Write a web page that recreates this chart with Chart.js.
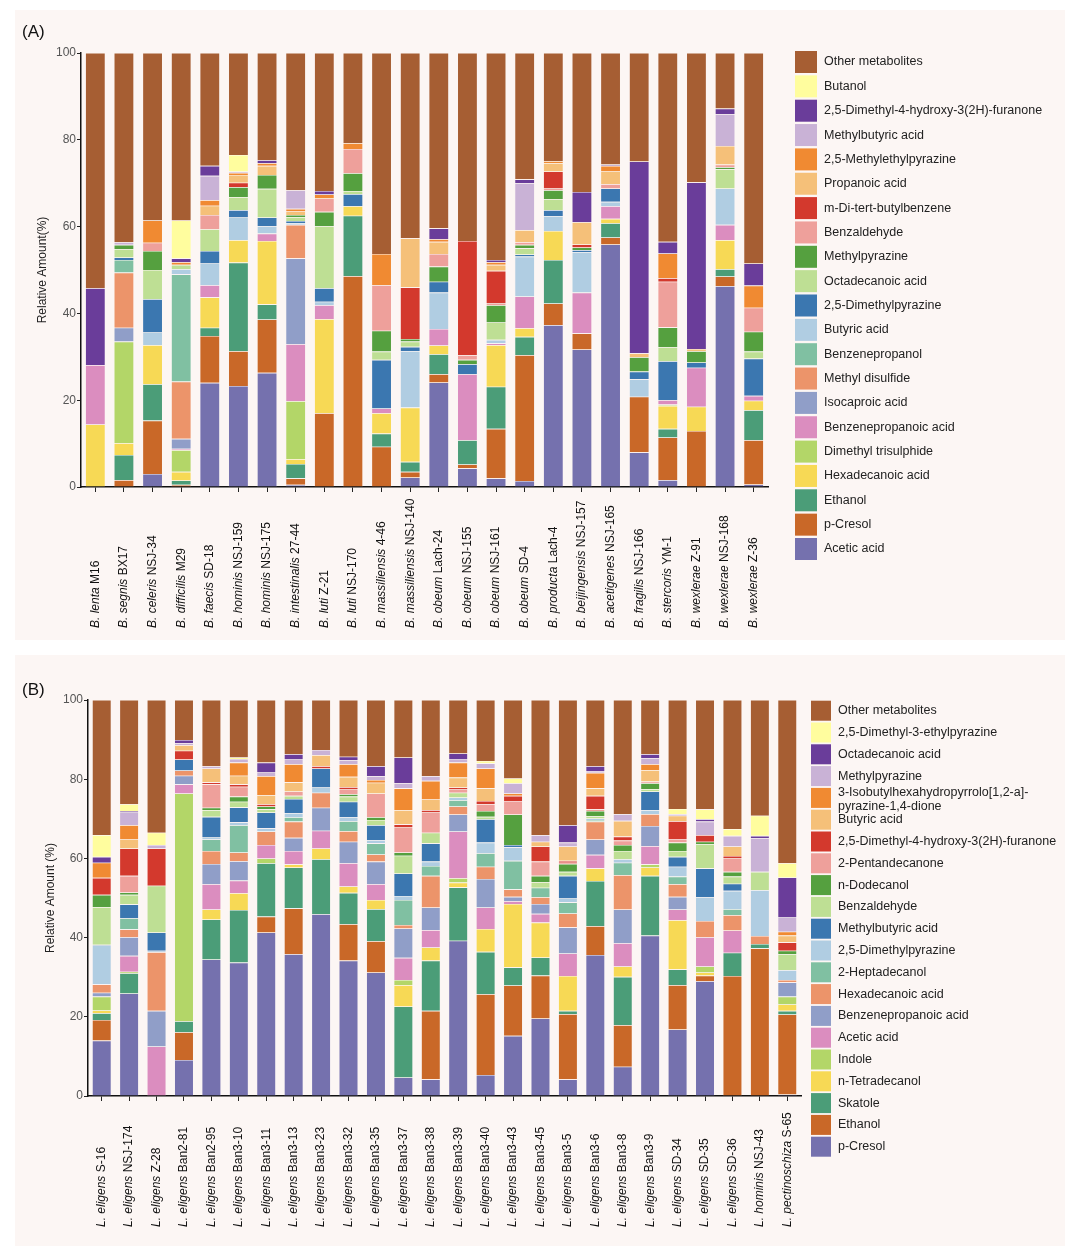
<!DOCTYPE html>
<html>
<head>
<meta charset="utf-8">
<script src="https://cdn.jsdelivr.net/npm/chart.js@4.4.1/dist/chart.umd.min.js"></script>
<style>
  body { margin: 0; background: #fff; width: 1080px; height: 1258px; position: relative; }
  .panel { position: absolute; left: 15px; width: 1050px; background: #fcf6f4; }
  #pa { top: 10px; height: 630px; }
  #pb { top: 655px; height: 591px; }
</style>
</head>
<body>
<div class="panel" id="pa"><canvas id="chartA"></canvas></div>
<div class="panel" id="pb"><canvas id="chartB"></canvas></div>
<script>
// --- panel A : strains and metabolites (bottom of stack first)
const strainsA = ['B. lenta M16', 'B. segnis BX17', 'B. celeris NSJ-34', 'B. difficilis M29', 'B. faecis SD-18',
  'B. hominis NSJ-159', 'B. hominis NSJ-175', 'B. intestinalis 27-44', 'B. luti Z-21', 'B. luti NSJ-170',
  'B. massiliensis 4-46', 'B. massiliensis NSJ-140', 'B. obeum Lach-24', 'B. obeum NSJ-155', 'B. obeum NSJ-161',
  'B. obeum SD-4', 'B. producta Lach-4', 'B. beijingensis NSJ-157', 'B. acetigenes NSJ-165', 'B. fragilis NSJ-166',
  'B. stercoris YM-1', 'B. wexlerae Z-91', 'B. wexlerae NSJ-168', 'B. wexlerae Z-36'];

const aAcetic = [0, 0, 3.0, 0, 24.0, 23.3, 26.3, 0.5, 0, 0, 0, 2.2, 24.1, 4.3, 2.0, 1.4, 37.3, 31.7, 55.9, 8.0, 1.6, 0, 46.3, 0.6];
const aCresol = [0, 1.6, 12.3, 0.5, 10.8, 8.0, 12.3, 1.5, 17.0, 48.6, 9.3, 1.3, 1.9, 0.9, 11.4, 29.0, 5.0, 3.7, 1.6, 12.8, 9.8, 12.9, 2.2, 10.2];
const aEthanol = [0, 5.8, 8.4, 1.0, 1.9, 20.4, 3.5, 3.3, 0, 13.9, 3.0, 2.3, 4.6, 5.6, 9.7, 4.2, 10.0, 0, 3.3, 0, 2.0, 0, 1.7, 6.9];
const aHexadecanoic = [14.4, 2.7, 9.0, 2.0, 7.0, 5.2, 14.6, 1.1, 21.7, 2.2, 4.7, 12.5, 2.0, 0, 9.6, 2.0, 6.7, 0, 1.0, 0, 5.3, 5.6, 6.7, 2.2];
const aTrisulphide = [0, 23.4, 0, 5.0, 0, 0, 0, 13.4, 0, 0, 0, 0, 0, 0, 0, 0, 0, 0, 0, 0, 0.3, 0, 0, 0];
const aBzPropAcid = [13.7, 0, 0, 0.3, 2.8, 0, 1.7, 13.1, 3.2, 0, 1.1, 0, 3.8, 15.2, 0.4, 7.3, 0, 9.4, 2.9, 0, 1.0, 9.0, 3.5, 1.1];
const aIsocaproic = [0, 3.2, 0, 2.3, 0, 0, 0, 19.8, 0, 0, 0, 0, 0, 0, 0, 0, 0, 0, 0, 0, 0, 0, 0, 0];
const aDisulfide = [0, 12.7, 0, 13.2, 0, 0, 0, 7.7, 0, 0, 0, 0, 0, 0, 0, 0, 0, 0, 0, 0, 0, 0, 0, 0];
const aBzPropanol = [0, 2.9, 0, 24.7, 0, 0, 0, 0, 0, 0, 0, 0, 0, 0, 0, 0, 0, 0, 0, 0, 0, 0, 0, 0];
const aButyric = [0, 0, 2.9, 1.2, 5.0, 5.2, 1.7, 0.4, 0.8, 0, 0, 13.0, 8.4, 0, 0.8, 9.2, 3.4, 9.3, 1.0, 4.0, 0, 0, 8.4, 0];
const aDimethylPyr = [0, 0.6, 7.7, 0, 2.9, 1.7, 2.0, 0.5, 3.1, 2.8, 11.2, 1.0, 2.5, 2.3, 0, 0.5, 1.4, 0.5, 3.1, 1.8, 9.0, 1.2, 0, 8.6];
const aOctadecanoic = [0, 1.9, 6.7, 1.0, 5.0, 3.0, 6.6, 0.9, 14.3, 0.7, 1.9, 1.2, 0, 0, 4.0, 1.4, 2.5, 0, 0, 0, 3.2, 0, 4.4, 1.6];
const aMethylPyr = [0, 1.0, 4.4, 0, 0, 2.3, 3.2, 0.5, 3.3, 4.1, 4.8, 0.6, 3.5, 1.0, 4.0, 0.8, 2.1, 0.6, 0, 3.3, 4.6, 2.6, 0.5, 4.6];
const aBenzaldehyde = [0, 0, 1.9, 0, 3.3, 0, 0, 0, 3.1, 5.6, 10.5, 0, 2.9, 1.1, 0.4, 0.6, 0.4, 0, 1.0, 0, 10.5, 0, 0.6, 5.5];
const aDiTert = [0, 0, 0, 0, 0, 1.0, 0, 0, 0, 0, 0, 11.9, 0, 26.3, 7.5, 0, 3.9, 0.7, 0, 0, 0.8, 0, 0, 0];
const aPropanoic = [0, 0, 0, 0, 2.1, 1.8, 2.1, 0.8, 0, 0, 0, 11.3, 2.8, 0, 1.4, 2.8, 1.9, 5.1, 2.9, 0.9, 0, 0.5, 4.3, 0];
const aMethylEthPyr = [0, 0, 5.1, 0.6, 1.3, 0.5, 0.6, 0.6, 0.9, 1.3, 7.2, 0, 0.6, 0, 0.6, 0, 0.5, 0, 1.3, 0, 5.7, 0, 0, 5.1];
const aMethylbutyric = [0, 0.6, 0, 0, 5.6, 0.3, 0, 4.3, 0, 0, 0, 0, 0, 0, 0, 10.8, 0, 0, 0, 0, 0, 0, 7.3, 0];
const aFuranone = [17.7, 0, 0, 0.9, 2.3, 0, 0.7, 0, 0.8, 0, 0, 0, 2.5, 0, 0.5, 0.9, 0, 7.0, 0.3, 44.2, 2.7, 38.4, 1.3, 5.1];
const aButanol = [0, 0, 0, 8.7, 0, 3.8, 0, 0, 0, 0, 0, 0, 0, 0, 0, 0, 0, 0, 0, 0, 0, 0, 0, 0];
const aOther = [54.2, 43.6, 38.6, 38.6, 26.0, 23.5, 24.7, 31.6, 31.8, 20.8, 46.3, 42.7, 40.4, 43.3, 47.7, 29.1, 24.9, 32.0, 25.7, 25.0, 43.5, 29.8, 12.8, 48.5];

const namesA = ['Acetic acid', 'p-Cresol', 'Ethanol', 'Hexadecanoic acid', 'Dimethyl trisulphide', 'Benzenepropanoic acid',
  'Isocaproic acid', 'Methyl disulfide', 'Benzenepropanol', 'Butyric acid', '2,5-Dimethylpyrazine', 'Octadecanoic acid',
  'Methylpyrazine', 'Benzaldehyde', 'm-Di-tert-butylbenzene', 'Propanoic acid', '2,5-Methylethylpyrazine',
  'Methylbutyric acid', '2,5-Dimethyl-4-hydroxy-3(2H)-furanone', 'Butanol', 'Other metabolites'];
const valuesA = [aAcetic, aCresol, aEthanol, aHexadecanoic, aTrisulphide, aBzPropAcid, aIsocaproic, aDisulfide,
  aBzPropanol, aButyric, aDimethylPyr, aOctadecanoic, aMethylPyr, aBenzaldehyde, aDiTert, aPropanoic,
  aMethylEthPyr, aMethylbutyric, aFuranone, aButanol, aOther];

// --- panel B
const strainsB = ['L. eligens S-16', 'L. eligens NSJ-174', 'L. eligens Z-28', 'L. eligens Ban2-81', 'L. eligens Ban2-95',
  'L. eligens Ban3-10', 'L. eligens Ban3-11', 'L. eligens Ban3-13', 'L. eligens Ban3-23', 'L. eligens Ban3-32',
  'L. eligens Ban3-35', 'L. eligens Ban3-37', 'L. eligens Ban3-38', 'L. eligens Ban3-39', 'L. eligens Ban3-40',
  'L. eligens Ban3-43', 'L. eligens Ban3-45', 'L. eligens Ban3-5', 'L. eligens Ban3-6', 'L. eligens Ban3-8',
  'L. eligens Ban3-9', 'L. eligens SD-34', 'L. eligens SD-35', 'L. eligens SD-36', 'L. hominis NSJ-43',
  'L. pectinoschiza S-65'];

const bCresol = [14.0, 25.9, 0, 9.1, 34.5, 33.7, 41.3, 35.8, 45.9, 34.2, 31.2, 4.7, 4.2, 39.2, 5.3, 15.2, 19.6, 4.2, 35.6, 7.4, 40.5, 16.8, 29.0, 0, 0, 0.4];
const bEthanol = [5.2, 0, 0, 7.0, 0, 0, 4.0, 11.6, 0, 9.2, 7.9, 0, 17.3, 0, 20.4, 12.7, 10.8, 16.5, 7.3, 10.5, 0, 11.2, 1.4, 30.3, 37.3, 20.2];
const bSkatole = [1.7, 5.1, 0, 2.8, 10.1, 13.3, 13.5, 10.3, 13.9, 7.9, 8.1, 17.9, 12.7, 13.5, 10.7, 4.6, 4.6, 0.8, 11.4, 12.2, 15.1, 4.0, 0, 5.9, 1.1, 0.9];
const bTetradecanol = [0.7, 0, 0, 0, 2.5, 4.2, 0, 0.8, 2.7, 1.6, 2.3, 5.4, 3.3, 1.2, 5.8, 16.0, 8.8, 8.8, 3.2, 2.6, 2.1, 12.4, 0.8, 0, 0, 1.6];
const bIndole = [3.5, 0.4, 0, 57.5, 0, 0, 1.2, 0, 0, 0, 0, 1.3, 0, 1.1, 0, 0, 0, 0, 0, 0, 0.8, 0, 1.5, 0, 0, 2.0];
const bAcetic = [0, 4.0, 12.5, 2.3, 6.4, 3.2, 3.4, 3.4, 4.5, 5.9, 4.0, 5.6, 4.4, 11.8, 5.4, 0.7, 2.2, 5.7, 3.4, 5.9, 4.6, 2.7, 7.4, 5.6, 0, 0];
const bBzPropAcid = [1.0, 4.7, 9.0, 2.2, 5.1, 4.9, 0, 3.3, 5.8, 5.4, 5.7, 7.4, 5.7, 4.3, 7.2, 1.1, 2.5, 6.6, 3.9, 8.5, 5.1, 3.2, 0, 0, 0, 3.6];
const bHexadecanoic = [2.1, 2.0, 14.8, 1.3, 3.3, 2.2, 3.4, 4.1, 3.8, 2.7, 1.8, 0.9, 8.0, 2.0, 3.1, 1.9, 1.7, 3.5, 4.5, 8.7, 3.0, 3.2, 4.1, 3.9, 2.0, 0.6];
const bHeptadecanol = [0, 2.8, 0, 0, 2.9, 6.9, 0, 1.1, 0, 2.5, 2.8, 6.3, 2.5, 1.6, 3.4, 7.2, 2.4, 2.8, 0.4, 3.1, 0, 1.9, 0, 1.5, 0, 0];
const bDimethylPyr = [9.8, 0, 0.4, 0, 0.5, 0.7, 0.8, 1.0, 1.3, 1.0, 0.8, 1.0, 1.1, 0.7, 2.7, 3.4, 0, 1.0, 0.4, 0.9, 1.0, 2.5, 6.0, 4.6, 11.6, 2.5];
const bMethylbutyric = [0.2, 3.5, 4.6, 2.8, 5.2, 3.8, 4.0, 3.6, 4.8, 3.9, 3.8, 5.7, 4.6, 0, 5.9, 0.6, 0, 5.7, 0, 0, 4.7, 2.5, 7.3, 1.8, 0, 0];
const bBenzaldehyde = [9.5, 2.4, 11.8, 0, 1.7, 1.4, 0.8, 0.8, 0, 1.3, 1.3, 4.5, 2.7, 1.2, 0.6, 0, 1.4, 1.0, 0.6, 2.1, 0.6, 1.5, 6.1, 1.8, 4.6, 4.0];
const bDodecanol = [3.1, 0.6, 0, 0, 0.6, 1.3, 0.7, 0, 0, 0.6, 0.7, 0.8, 0, 0, 1.5, 7.7, 1.6, 2.0, 1.3, 1.5, 1.5, 2.1, 0.6, 1.2, 0, 0.9];
const bPentadecanone = [0, 4.2, 0, 0, 5.9, 2.5, 0, 1.1, 0, 1.2, 6.0, 6.3, 5.1, 0.8, 1.7, 3.4, 3.6, 0.3, 0.4, 1.1, 0.4, 0.9, 0, 3.4, 0, 0];
const bFuranone = [4.3, 6.9, 9.4, 2.2, 0.5, 0.6, 0.6, 0, 0.6, 0.6, 0, 0.8, 0.6, 0.5, 0.8, 1.3, 3.8, 0.5, 3.4, 1.0, 0, 4.5, 1.7, 0.6, 0, 2.1];
const bButyric = [0, 2.3, 0, 1.4, 3.5, 2.2, 2.3, 2.3, 2.8, 2.6, 2.7, 3.6, 2.7, 2.5, 3.2, 0, 1.2, 3.6, 1.9, 4.0, 2.9, 1.4, 0, 2.4, 0, 1.7];
const bIsobutyl = [3.8, 3.6, 0, 0, 0, 3.3, 4.8, 4.6, 0, 3.2, 0.7, 5.5, 4.7, 3.8, 5.0, 0.6, 0, 0, 3.9, 0, 1.5, 0, 0, 0, 0, 1.0];
const bMethylPyr = [0, 3.2, 0.9, 0.5, 0.6, 0.9, 0.9, 1.2, 1.3, 1.0, 1.0, 1.3, 1.2, 0.8, 1.3, 2.6, 1.7, 1.0, 0.5, 1.7, 1.5, 0.4, 3.4, 2.7, 8.5, 3.6];
const bOctadecanoic = [1.5, 0.4, 0, 0.8, 0, 0, 2.5, 1.3, 0, 0.9, 2.5, 6.5, 0, 1.5, 0, 0, 0, 4.4, 1.2, 0, 1.0, 0, 0.6, 0, 0.6, 10.1];
const bEthylPyr = [5.5, 1.7, 3.1, 0, 0, 0.4, 0, 0, 0, 0, 0, 0, 0, 0, 0.6, 1.2, 0, 0, 0, 0, 0, 1.3, 2.5, 1.7, 5.1, 3.6];
const bOther = [34.1, 26.3, 33.5, 10.1, 16.7, 14.5, 15.8, 13.7, 12.6, 14.3, 16.7, 14.5, 19.2, 13.5, 15.4, 19.8, 34.1, 31.6, 16.7, 28.8, 13.7, 27.5, 27.6, 32.6, 29.2, 41.2];

const namesB = ['p-Cresol', 'Ethanol', 'Skatole', 'n-Tetradecanol', 'Indole', 'Acetic acid', 'Benzenepropanoic acid',
  'Hexadecanoic acid', '2-Heptadecanol', '2,5-Dimethylpyrazine', 'Methylbutyric acid', 'Benzaldehyde', 'n-Dodecanol',
  '2-Pentandecanone', '2,5-Dimethyl-4-hydroxy-3(2H)-furanone', 'Butyric acid',
  '3-Isobutylhexahydropyrrolo[1,2-a]-\npyrazine-1,4-dione', 'Methylpyrazine', 'Octadecanoic acid',
  '2,5-Dimethyl-3-ethylpyrazine', 'Other metabolites'];
const valuesB = [bCresol, bEthanol, bSkatole, bTetradecanol, bIndole, bAcetic, bBzPropAcid, bHexadecanoic,
  bHeptadecanol, bDimethylPyr, bMethylbutyric, bBenzaldehyde, bDodecanol, bPentadecanone, bFuranone, bButyric,
  bIsobutyl, bMethylPyr, bOctadecanoic, bEthylPyr, bOther];

const yTicks = [0, 20, 40, 60, 80, 100];

// same colour order in both panels, bottom of stack first
const palette = ['#7571ae', '#c96828', '#4b9d78', '#f7d955', '#b3d668', '#db8dbf', '#909ec8', '#ec946a',
  '#80c0a2', '#b0cde2', '#3b77b0', '#bedf94', '#55a03f', '#eea09b', '#d3392d', '#f5c079', '#f08a32',
  '#c9b2d6', '#6a3d9a', '#fffd9e', '#a65e33'];

const FONT = '"Liberation Sans", Arial, sans-serif';

const decor = {
  id: 'decor',
  afterDraw(chart, args, o) {
    const ctx = chart.ctx;
    const xs = chart.scales.x;
    ctx.save();
    ctx.fillStyle = '#111';
    ctx.textBaseline = 'middle';
    ctx.textAlign = 'left';
    ctx.font = '17px ' + FONT;
    ctx.fillText(o.tag, o.tagX, o.tagY);

    // strain names, species part italic
    chart.data.labels.forEach((lab, i) => {
      const parts = lab.split(' ');
      const it = parts.slice(0, 2).join(' ') + ' ';
      const rest = parts.slice(2).join(' ');
      ctx.save();
      ctx.translate(xs.getPixelForValue(i), o.labelBase);
      ctx.rotate(-Math.PI / 2);
      ctx.fillStyle = '#111';
      ctx.font = 'italic 12px ' + FONT;
      ctx.fillText(it, 0, 0);
      const w = ctx.measureText(it).width;
      ctx.font = '12px ' + FONT;
      ctx.fillText(rest, w, 0);
      ctx.restore();
    });

    // legend, top of stack first
    const ds = chart.data.datasets;
    ctx.font = '12.5px ' + FONT;
    for (let k = 0; k < ds.length; k++) {
      const d = ds[ds.length - 1 - k];
      const cy = o.legY + k * o.legStep;
      ctx.fillStyle = d.backgroundColor;
      ctx.fillRect(o.legX, cy - o.sw / 2, o.sw, o.sw);
      ctx.fillStyle = '#222';
      const lines = d.label.split('\n');
      if (lines.length === 1) {
        ctx.fillText(lines[0], o.textX, cy);
      } else {
        lines.forEach((ln, j) => ctx.fillText(ln, o.textX, cy - 5 + j * 14));
      }
    }
    ctx.restore();
  }
};

function makeChart(id, labels, names, values, opt) {
  const datasets = names.map((n, i) => ({
    label: n,
    data: values[i],
    backgroundColor: palette[i],
    borderColor: 'rgba(252,246,244,0.45)',
    borderWidth: 0.6,
    barPercentage: 0.7,
    categoryPercentage: 1.0
  }));
  return new Chart(document.getElementById(id), {
    type: 'bar',
    data: { labels: labels, datasets: datasets },
    plugins: [decor],
    options: {
      responsive: true,
      maintainAspectRatio: false,
      animation: false,
      layout: { padding: { left: opt.padLeft, top: opt.padTop, right: opt.padRight, bottom: 0 } },
      plugins: {
        legend: { display: false },
        tooltip: { enabled: false },
        decor: opt.decor
      },
      scales: {
        x: {
          stacked: true,
          grid: { display: true, drawOnChartArea: false, offset: false, tickLength: 5, color: '#222', lineWidth: 1 },
          border: { color: '#111', width: 1.5 },
          ticks: { display: false },
          afterFit(s) { s.height = opt.xHeight; }
        },
        y: {
          stacked: true,
          min: 0,
          max: 100,
          afterBuildTicks(s) { s.ticks = yTicks.map(v => ({ value: v })); },
          grid: { drawOnChartArea: false, tickLength: 4, color: '#222', lineWidth: 1 },
          border: { color: '#111', width: 1.5 },
          ticks: { color: '#555', font: { family: FONT, size: 12 }, padding: 1 },
          title: { display: true, text: opt.yTitle, color: '#222', font: { family: FONT, size: 12 }, padding: { top: 4, bottom: 0 } },
          afterFit(s) { s.width = opt.yWidth; }
        }
      }
    }
  });
}

makeChart('chartA', strainsA, namesA, valuesA, {
  padLeft: 16, padTop: 43, padRight: 297, xHeight: 153, yWidth: 50,
  yTitle: 'Relative Amount(%)',
  decor: { tag: '(A)', tagX: 7, tagY: 22, labelBase: 618, legX: 780, textX: 809, legY: 52, legStep: 24.35, sw: 22 }
});

makeChart('chartB', strainsB, namesB, valuesB, {
  padLeft: 24, padTop: 45, padRight: 264, xHeight: 150, yWidth: 49,
  yTitle: 'Relative Amount (%)',
  decor: { tag: '(B)', tagX: 7, tagY: 35, labelBase: 572, legX: 796, textX: 823, legY: 55.7, legStep: 21.8, sw: 20 }
});
</script>
</body>
</html>
